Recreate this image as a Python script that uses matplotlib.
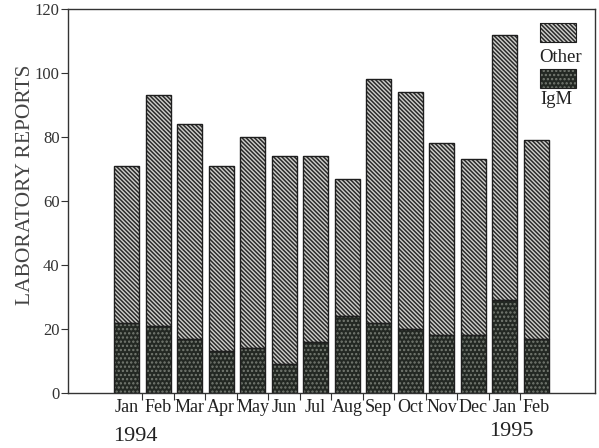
import matplotlib
matplotlib.use("Agg")
import matplotlib.pyplot as plt
from matplotlib.patches import Rectangle
import numpy as np

plt.rcParams["font.family"] = "serif"
plt.rcParams["font.serif"] = ["Liberation Serif", "DejaVu Serif"]
plt.rcParams["hatch.linewidth"] = 1.1

months = ["Jan", "Feb", "Mar", "Apr", "May", "Jun", "Jul", "Aug",
          "Sep", "Oct", "Nov", "Dec", "Jan", "Feb"]
totals = [71, 93, 84, 71, 80, 74, 74, 67, 98, 94, 78, 73, 112, 79]
igm = [22, 21, 17, 13, 14, 9, 16, 24, 22, 20, 18, 18, 29, 17]
other = [t - i for t, i in zip(totals, igm)]

OTHER_FACE = "#d0d0cc"
OTHER_EDGE = "#2a2a2a"
OTHER_HATCH = "\\" * 8
IGM_FACE = "#232823"
IGM_EDGE = "#767b73"
IGM_HATCH = "...."

fig = plt.figure(figsize=(5.99, 4.48), dpi=100)
ax = fig.add_axes([0.1135, 0.1228, 0.8800, 0.8571])

x = np.arange(len(months))
w = 0.79

# IgM: dark with light dots
ax.bar(x, igm, width=w, color=IGM_FACE, edgecolor=IGM_EDGE,
       hatch=IGM_HATCH, linewidth=0)
# Other: grey with dense diagonal lines
ax.bar(x, other, bottom=igm, width=w, color=OTHER_FACE, edgecolor=OTHER_EDGE,
       hatch=OTHER_HATCH, linewidth=0)
# outlines
ax.bar(x, igm, width=w, fill=False, edgecolor="#1e1e1e", linewidth=1.0)
ax.bar(x, other, bottom=igm, width=w, fill=False, edgecolor="#1e1e1e", linewidth=1.0)

ax.set_xlim(-1.86, 14.87)
ax.set_ylim(0, 120)
ax.set_yticks([0, 20, 40, 60, 80, 100, 120])
ax.tick_params(axis="y", direction="out", length=5, labelsize=12, colors="#333333", pad=1)

ax.set_xticks(x[:-1] + 0.5)
ax.set_xticklabels([])
ax.set_xticks(x, minor=True)
ax.set_xticklabels(months, minor=True, fontsize=13)
ax.tick_params(axis="x", which="major", direction="out", length=5, color="#333333")
ax.tick_params(axis="x", which="minor", length=0, pad=4, colors="#222222")

for s in ax.spines.values():
    s.set_color("#333333")
    s.set_linewidth(1.0)

# y axis title, placed where it sits in the original
fig.text(26 / 599, 1 - 185 / 448, "LABORATORY REPORTS", rotation=90, fontsize=15.5,
         color="#444444", ha="center", va="center")

# year labels
fig.text(113 / 599, 1 - 436 / 448, "1994", fontsize=16, color="#222222", va="center")
fig.text(489 / 599, 1 - 431 / 448, "1995", fontsize=16, color="#222222", va="center")

# legend drawn by hand: swatch with the label beneath it
lx, lw_, lh = 540 / 599, 36 / 599, 19 / 448
fig.patches.append(Rectangle((lx, 1 - 42 / 448), lw_, lh, transform=fig.transFigure,
                             facecolor=OTHER_FACE, edgecolor=OTHER_EDGE, hatch=OTHER_HATCH,
                             linewidth=0))
fig.patches.append(Rectangle((lx, 1 - 42 / 448), lw_, lh, transform=fig.transFigure,
                             fill=False, edgecolor="#1e1e1e", linewidth=0.8))
fig.text(lx + lw_ / 2 + 0.004, 1 - 58 / 448, "Other", fontsize=13.5, ha="center", va="center",
         color="#222222")
fig.patches.append(Rectangle((lx, 1 - 88 / 448), lw_, lh, transform=fig.transFigure,
                             facecolor=IGM_FACE, edgecolor=IGM_EDGE, hatch=IGM_HATCH,
                             linewidth=0))
fig.patches.append(Rectangle((lx, 1 - 88 / 448), lw_, lh, transform=fig.transFigure,
                             fill=False, edgecolor="#1e1e1e", linewidth=0.8))
fig.text(lx + lw_ / 2 - 0.002, 1 - 100 / 448, "IgM", fontsize=13.5, ha="center", va="center",
         color="#222222")

fig.savefig("out.png", dpi=100)
